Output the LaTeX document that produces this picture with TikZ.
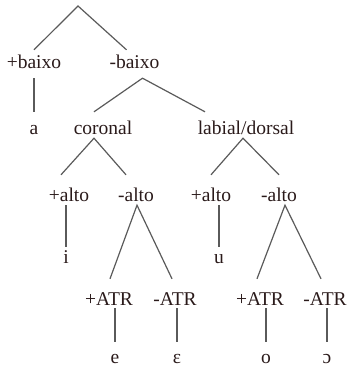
\documentclass[tikz,border=0pt]{standalone}
\usepackage{fontspec}
\setmainfont{Liberation Serif}
\definecolor{branchgray}{HTML}{5A5A5A}
\definecolor{inkbrown}{HTML}{2A1A1A}
\begin{document}
\begin{tikzpicture}[
    x=1pt,
    y=-1pt,
    every node/.style={
      anchor=base,
      inner sep=0pt,
      text depth=4pt,
      text=inkbrown,
      font=\fontsize{19.5}{22}\selectfont
    },
    branch/.style={draw=branchgray, line width=1.2pt}
  ]
    \useasboundingbox (0,0) rectangle (348,370);

    \coordinate (root) at (78,6);

    \node[text height=18pt, text depth=10pt] (pbaixo) at (34,68) {+baixo};
    \node[text height=18pt, text depth=10pt] (mbaixo) at (134.5,68) {-baixo};

    \node[text height=22pt] (a) at (34,134) {a};
    \node[text height=22pt] (coronal) at (103,134) {coronal};
    \node[text height=22pt] (labial) at (246,134) {labial/dorsal};

    \node[text height=26pt] (palto1) at (69,201) {+alto};
    \node[text height=26pt] (malto1) at (136,201) {-alto};
    \node[text height=26pt] (palto2) at (211,201) {+alto};
    \node[text height=26pt] (malto2) at (279,201) {-alto};

    \node[text height=16pt] (i) at (66,263) {i};
    \node[text height=16pt] (u) at (219,263) {u};

    \node[text height=26pt, text depth=3pt] (patr1) at (109,305) {+ATR};
    \node[text height=26pt, text depth=3pt] (matr1) at (175,305) {-ATR};
    \node[text height=26pt, text depth=3pt] (patr2) at (260,305) {+ATR};
    \node[text height=26pt, text depth=3pt] (matr2) at (325,305) {-ATR};

    \node[text height=21pt] (e) at (115,363) {e};
    \node[text height=21pt] (eps) at (177,363) {ɛ};
    \node[text height=21pt] (o) at (266,363) {o};
    \node[text height=21pt] (oo) at (327,363) {ɔ};

    \draw[branch] (pbaixo.north) to (root) to ([xshift=-8pt]mbaixo.north);
    \draw[branch] (pbaixo.south) to (a.north);

    \draw[branch] ([xshift=-9pt]coronal.north) to ([xshift=8pt]mbaixo.south) to ([xshift=-41pt]labial.north);

    \draw[branch] ([xshift=-8pt]palto1.north) to ([xshift=-9pt]coronal.south) to ([xshift=-10pt]malto1.north);
    \draw[branch] (palto2.north) to ([xshift=-3pt]labial.south) to (malto2.north);

    \draw[branch] ([xshift=-3pt]palto1.south) to (i.north);
    \draw[branch] ([xshift=8pt]palto2.south) to (u.north);

    \draw[branch] ([xshift=1pt]patr1.north) to ([xshift=1pt]malto1.south) to ([xshift=-3pt]matr1.north);
    \draw[branch] ([xshift=-3pt]patr2.north) to ([xshift=6pt]malto2.south) to ([xshift=-4pt]matr2.north);

    \draw[branch] ([xshift=6pt]patr1.south) to (e.north);
    \draw[branch] ([xshift=2pt]matr1.south) to (eps.north);
    \draw[branch] ([xshift=6pt]patr2.south) to (o.north);
    \draw[branch] ([xshift=2pt]matr2.south) to (oo.north);
  \end{tikzpicture}
\end{document}
